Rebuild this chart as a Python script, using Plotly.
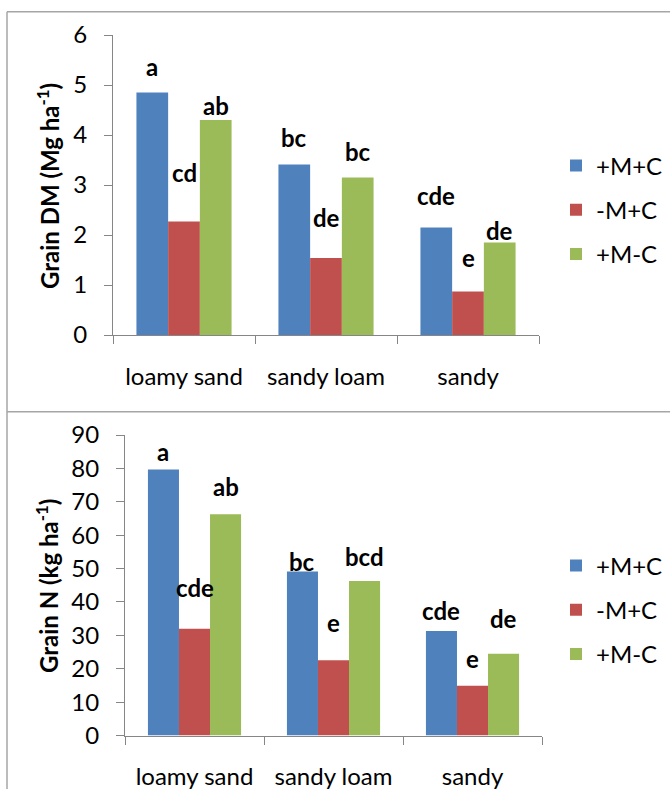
import plotly.graph_objects as go

# ---------------- data ----------------
categories = ["loamy sand", "sandy loam", "sandy"]
series_names = ["+M+C", "-M+C", "+M-C"]
series_colors = ["#4F81BD", "#C0504D", "#9BBB59"]

# Grain DM (Mg ha-1)
dm_pmpc = [4.85, 3.41, 2.15]   # +M+C
dm_mmpc = [2.27, 1.54, 0.87]   # -M+C
dm_pmmc = [4.30, 3.15, 1.85]   # +M-C
dm_letters_pmpc = ["a", "bc", "cde"]
dm_letters_mmpc = ["cd", "de", "e"]
dm_letters_pmmc = ["ab", "bc", "de"]
dm_letter_y_pmpc = [5.37, 3.95, 2.80]
dm_letter_y_mmpc = [3.25, 2.35, 1.55]
dm_letter_y_pmmc = [4.60, 3.67, 2.10]

# Grain N (kg ha-1)
n_pmpc = [79.7, 49.1, 31.3]
n_mmpc = [32.0, 22.5, 14.9]
n_pmmc = [66.3, 46.3, 24.5]
n_letters_pmpc = ["a", "bc", "cde"]
n_letters_mmpc = ["cde", "e", "e"]
n_letters_pmmc = ["ab", "bcd", "de"]
n_letter_y_pmpc = [85.0, 52.2, 37.3]
n_letter_y_mmpc = [44.4, 33.7, 23.0]
n_letter_y_pmmc = [74.7, 53.7, 35.0]

dm_tickvals = [0, 1, 2, 3, 4, 5, 6]
n_tickvals = [0, 10, 20, 30, 40, 50, 60, 70, 80, 90]

# ---------------- style ----------------
W, H = 670, 789
FONT = "Lato"
FS = 24
AXIS_COLOR = "#868686"
BORDER_COLOR = "#A6A6A6"
BARGAP = 0.33

def px_x(p):
    return p / W

def px_y(p):
    return 1 - p / H

fig = go.Figure()

panels = [
    dict(xa="x", ya="y", legend="legend",
         vals=[dm_pmpc, dm_mmpc, dm_pmmc],
         letters=[dm_letters_pmpc, dm_letters_mmpc, dm_letters_pmmc],
         ly=[dm_letter_y_pmpc, dm_letter_y_mmpc, dm_letter_y_pmmc]),
    dict(xa="x2", ya="y2", legend="legend2",
         vals=[n_pmpc, n_mmpc, n_pmmc],
         letters=[n_letters_pmpc, n_letters_mmpc, n_letters_pmmc],
         ly=[n_letter_y_pmpc, n_letter_y_mmpc, n_letter_y_pmmc]),
]

annotations = []
nser = len(series_names)
bw = (1 - BARGAP) / nser
for p in panels:
    for j, (name, col, vals) in enumerate(zip(series_names, series_colors, p["vals"])):
        fig.add_trace(go.Bar(
            x=categories, y=vals, name=name,
            marker=dict(color=col, line=dict(width=0)),
            xaxis=p["xa"], yaxis=p["ya"], legend=p["legend"],
            legendgroup=p["legend"] + name,
            hoverinfo="x+y+name",
        ))
        for i, (lt, yv) in enumerate(zip(p["letters"][j], p["ly"][j])):
            annotations.append(dict(
                x=i + (j - (nser - 1) / 2) * bw, y=yv,
                xref=p["xa"], yref=p["ya"],
                text=f"<b>{lt}</b>", showarrow=False,
                xanchor="center", yanchor="middle",
                font=dict(family=FONT, size=FS, color="black"),
            ))

# y-axis titles
annotations.append(dict(
    x=px_x(48), y=px_y(186), xref="paper", yref="paper",
    text="<b>Grain DM (Mg ha<sup>-1</sup>)</b>", textangle=-90,
    showarrow=False, xanchor="center", yanchor="middle",
    font=dict(family=FONT, size=FS, color="black"),
))
annotations.append(dict(
    x=px_x(47), y=px_y(586), xref="paper", yref="paper",
    text="<b>Grain N (kg ha<sup>-1</sup>)</b>", textangle=-90,
    showarrow=False, xanchor="center", yanchor="middle",
    font=dict(family=FONT, size=FS, color="black"),
))

tickfont = dict(family=FONT, size=FS, color="black")

def xax(domain, anchor):
    return dict(domain=domain, anchor=anchor, type="category",
                range=[-0.5, 2.5], showline=True, linecolor=AXIS_COLOR,
                linewidth=1, ticks="outside", tickson="boundaries",
                ticklen=8, tickcolor=AXIS_COLOR, tickwidth=1,
                tickfont=tickfont, ticklabelstandoff=20,
                showgrid=False, zeroline=False, fixedrange=True,
                automargin=False)

def yax(domain, anchor, rng, tickvals):
    return dict(domain=domain, anchor=anchor, range=rng,
                tickvals=tickvals, showline=True, linecolor=AXIS_COLOR,
                linewidth=1, ticks="outside", ticklen=8,
                tickcolor=AXIS_COLOR, tickwidth=1, tickfont=tickfont,
                ticklabelstandoff=12, showgrid=False, zeroline=False,
                fixedrange=True, automargin=False)

legend_common = dict(
    font=dict(family=FONT, size=FS, color="black"),
    traceorder="grouped", tracegroupgap=10,
    xanchor="left", yanchor="middle", bgcolor="rgba(0,0,0,0)",
    borderwidth=0,
)

shapes = [
    dict(type="line", xref="paper", yref="paper",
         x0=px_x(7), x1=1.0, y0=px_y(11.7), y1=px_y(11.7),
         line=dict(color=BORDER_COLOR, width=1.5)),
    dict(type="line", xref="paper", yref="paper",
         x0=px_x(7), x1=1.0, y0=px_y(411.7), y1=px_y(411.7),
         line=dict(color=BORDER_COLOR, width=1.5)),
    dict(type="line", xref="paper", yref="paper",
         x0=px_x(7), x1=px_x(7), y0=px_y(11.7), y1=0.0,
         line=dict(color=BORDER_COLOR, width=1.5)),
]

fig.update_layout(
    width=W, height=H,
    margin=dict(l=0, r=0, t=0, b=0, autoexpand=False),
    paper_bgcolor="white", plot_bgcolor="white",
    barmode="group", bargap=BARGAP, bargroupgap=0,
    xaxis=xax([px_x(113), px_x(539)], "y"),
    yaxis=yax([1 - 335 / H, 1 - 35 / H], "x", [0, 6], dm_tickvals),
    xaxis2=xax([px_x(125), px_x(542)], "y2"),
    yaxis2=yax([1 - 735.5 / H, 1 - 435 / H], "x2", [0, 90], n_tickvals),
    legend=dict(x=px_x(556), y=px_y(210), **legend_common),
    legend2=dict(x=px_x(556), y=px_y(610), **legend_common),
    annotations=annotations,
    shapes=shapes,
    showlegend=True,
)

fig.write_html(
    "out.html",
    config={"displayModeBar": False},
    post_script="document.body.style.margin='0';document.body.style.overflow='hidden';",
)
